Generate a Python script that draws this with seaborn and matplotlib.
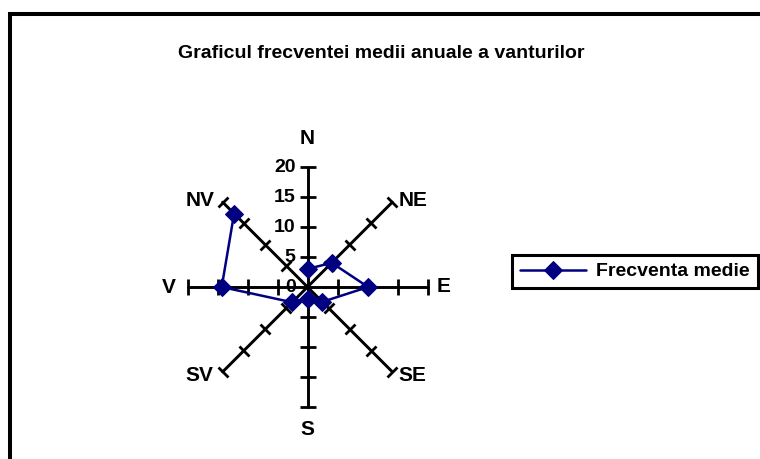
import numpy as np
import pandas as pd
import matplotlib
matplotlib.use("Agg")
import matplotlib.pyplot as plt
import seaborn as sns
from matplotlib.markers import MarkerStyle
from matplotlib.transforms import Affine2D
from matplotlib.patches import Rectangle

# ------------------------------------------------------------------
# DATE
# ------------------------------------------------------------------
directions = ['N', 'NE', 'E', 'SE', 'S', 'SV', 'V', 'NV']
frecventa = [3.0, 5.7, 10.1, 3.5, 2.0, 3.6, 14.3, 17.3]
r_ticks = [0, 5, 10, 15, 20]
r_max = 20
title = "Graficul frecventei medii anuale a vanturilor"
series_name = "Frecventa medie"

# offsets (pixels) pentru etichetele directiilor
label_offsets = {
    'N': (0, 19, 'center', 'bottom'),
    'NE': (6, 2, 'left', 'center'),
    'E': (9, 0, 'left', 'center'),
    'SE': (6, -4, 'left', 'center'),
    'S': (0, -13, 'center', 'top'),
    'SV': (-9, -4, 'right', 'center'),
    'V': (-12, 0, 'right', 'center'),
    'NV': (-8, 2, 'right', 'center'),
}

sns.set_style("white")
plt.rcParams['font.family'] = ['Liberation Sans', 'DejaVu Sans']
plt.rcParams['font.weight'] = 'bold'
plt.rcParams['text.color'] = 'black'

W, H = 760, 459
fig = plt.figure(figsize=(W / 100, H / 100), dpi=100)

# chenar exterior
fig.patches.append(Rectangle((10 / W, -0.2), 1.5, 1.2 - 14 / H,
                             transform=fig.transFigure, fill=False,
                             edgecolor='black', linewidth=2.9))

fig.text(381 / W, 1 - 53 / H, title, ha='center', va='center',
         fontsize=14, fontweight='bold')

# axa radar
cx, cy, rad = 307.5, 287, 120
ax = fig.add_axes([(cx - rad) / W, (H - cy - rad) / H, 2 * rad / W, 2 * rad / H],
                  projection='polar')
ax.set_theta_zero_location('N')
ax.set_theta_direction(-1)
ax.set_ylim(0, r_max)
ax.grid(False)
ax.spines['polar'].set_visible(False)
ax.set_xticks([])
ax.set_yticks([])
ax.patch.set_alpha(0)

theta = np.deg2rad(np.arange(len(directions)) * 360 / len(directions))

for th, name in zip(theta, directions):
    ax.plot([th, th], [0, r_max], color='black', lw=2.1, zorder=1, clip_on=False)
    mk = MarkerStyle('_', transform=Affine2D().rotate_deg(-np.rad2deg(th)))
    ax.plot([th] * 4, r_ticks[1:], linestyle='none', marker=mk,
            markersize=11, markeredgewidth=2.0, color='black', zorder=1,
            clip_on=False)
    dx, dy, ha, va = label_offsets[name]
    ax.annotate(name, xy=(th, r_max), xytext=(dx, dy), textcoords='offset pixels',
                ha=ha, va=va, fontsize=15, fontweight='bold', annotation_clip=False)

for r in r_ticks:
    ax.annotate(str(r), xy=(0, r), xytext=(-12, 0), textcoords='offset pixels',
                ha='right', va='center', fontsize=14, fontweight='bold',
                annotation_clip=False)

df = pd.DataFrame({'theta': np.append(theta, theta[0]),
                   'val': frecventa + frecventa[:1]})
sns.lineplot(data=df, x='theta', y='val', sort=False, ax=ax, color='#000080',
             lw=1.8, marker='D', markersize=9.5, markeredgecolor='#000080',
             label=series_name, zorder=3)
ax.set_xlabel('')
ax.set_ylabel('')

leg = ax.legend(loc='center', bbox_to_anchor=((513 + 757) / 2 / W, 1 - 271.5 / H),
                bbox_transform=fig.transFigure, fancybox=False, frameon=True,
                framealpha=1, edgecolor='black', handlelength=3.4, borderpad=0.4,
                handletextpad=0.5, prop={'weight': 'bold', 'size': 14})
leg.get_frame().set_linewidth(2.2)
for t in leg.get_texts():
    t.set_color('black')

fig.savefig('out.png', dpi=100)
